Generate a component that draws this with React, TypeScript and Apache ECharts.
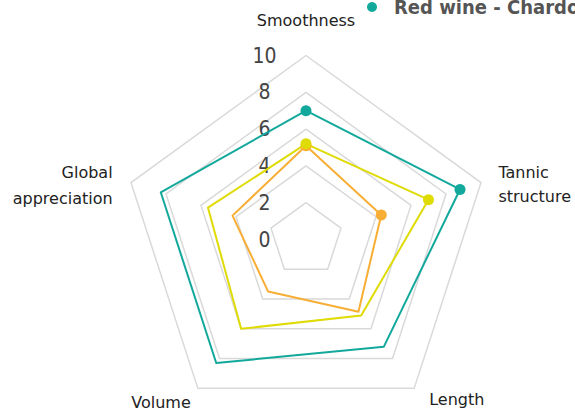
import React, { useEffect, useRef } from "react";
import * as echarts from "echarts";

// Indicators in ECharts radar order (counter-clockwise from the top)
const indicators = ["Smoothness", "Global appreciation", "Volume", "Length", "Tannic structure"];
const axisMax = 10;

const seriesNames = ["Red wine - Chardonnay", "Red wine - Merlot", "Red wine - Pinot noir"];
const tealValues = [7.0, 8.3, 8.3, 7.2, 8.8];
const yellowValues = [5.2, 5.6, 6.0, 5.1, 7.0];
const orangeValues = [5.1, 4.2, 3.5, 4.85, 4.3];

// Indicators that carry a marker dot
const dotIndicators = ["Smoothness", "Tannic structure"];

const colors = ["#12a99c", "#dfdb04", "#f8ae35"];

const NAME_FONT = "'DejaVu Sans', sans-serif";
const COND_FONT = "'DejaVu Sans Condensed', 'Liberation Sans Narrow', 'Roboto Condensed', sans-serif";

export default function App() {
  const ref = useRef<HTMLDivElement>(null);
  useEffect(() => {
    if (!ref.current) return;
    const chart = echarts.init(ref.current, null, { renderer: "svg" });
    const allValues = [tealValues, yellowValues, orangeValues];
    const clockwise = [indicators[0], indicators[4], indicators[3], indicators[2], indicators[1]];
    const center = [306, 239.5];
    const radius = 184;

    const base = { fontSize: 16, color: "#222", fontFamily: NAME_FONT, lineHeight: 25 };
    const rich: any = {
      s: { ...base, padding: [0, 0, 17, 0] },
      t1: { ...base, padding: [12, 0, 0, 6] },
      t2: { ...base, padding: [10, 0, 0, 6] },
      g1: { ...base, padding: [12, 7, 0, 0] },
      g2: { ...base, padding: [14, 7, 0, 0] },
      v: { ...base, padding: [8, 0, 0, 0] },
      l: { ...base, padding: [2, 0, 0, 8] },
    };
    const nameFormatter = (value: string) => {
      if (value === "Smoothness") return `{s|${value}}`;
      if (value === "Tannic structure") return `{t1|Tannic}\n{t2|structure}`;
      if (value === "Global appreciation") return `{g1|Global}\n{g2|appreciation}`;
      if (value === "Volume") return `{v|${value}}`;
      if (value === "Length") return `{l|${value}}`;
      return value;
    };

    const radarSeries = [0, 2, 1].map((i) => ({
      type: "radar",
      name: seriesNames[i],
      symbol: "none",
      z: 2,
      lineStyle: { color: colors[i], width: 2 },
      itemStyle: { color: colors[i] },
      data: [{ value: allValues[i], name: seriesNames[i] }],
    }));

    const dotSeries = [0, 2, 1].map((i) => ({
      type: "scatter",
      name: seriesNames[i],
      coordinateSystem: "polar",
      symbol: "circle",
      symbolSize: 11,
      z: 3,
      itemStyle: { color: colors[i], opacity: 1 },
      data: dotIndicators.map((ind) => [allValues[i][indicators.indexOf(ind)], ind]),
    }));

    chart.setOption({
      animation: false,
      legend: {
        data: seriesNames,
        left: 362,
        top: -8,
        width: 2000,
        orient: "horizontal",
        icon: "circle",
        itemWidth: 34,
        itemHeight: 10,
        itemGap: 20,
        textStyle: {
          fontSize: 20,
          fontWeight: "bold",
          color: "#555",
          fontFamily: COND_FONT,
        },
      },
      radar: {
        center,
        radius,
        shape: "polygon",
        splitNumber: 5,
        nameGap: 12,
        axisName: {
          color: "#222",
          fontSize: 16,
          lineHeight: 25,
          fontFamily: NAME_FONT,
          formatter: nameFormatter,
          rich,
        },
        axisLine: { show: false },
        axisTick: { show: false },
        splitArea: { show: false },
        splitLine: { lineStyle: { color: "#d9d9d9", width: 1.5 } },
        axisLabel: { show: false },
        indicator: indicators.map((name, k) => {
          const item: any = { name, min: 0, max: axisMax };
          if (k === 0) {
            item.axisLabel = {
              show: true,
              color: "#444",
              fontSize: 21,
              fontFamily: COND_FONT,
              align: "center",
              margin: 41.5,
              padding: [0, 0, 3, 0],
            };
          }
          return item;
        }),
      },
      polar: { center, radius },
      angleAxis: {
        type: "category",
        data: clockwise,
        startAngle: 90,
        boundaryGap: false,
        axisLine: { show: false },
        axisTick: { show: false },
        axisLabel: { show: false },
        splitLine: { show: false },
      },
      radiusAxis: {
        type: "value",
        min: 0,
        max: axisMax,
        axisLine: { show: false },
        axisTick: { show: false },
        axisLabel: { show: false },
        splitLine: { show: false },
      },
      series: [...radarSeries, ...dotSeries],
    });
    return () => chart.dispose();
  }, []);
  return (
    <div
      ref={ref}
      style={{ position: "fixed", left: 0, top: 0, width: 575, height: 409, background: "#fff" }}
    />
  );
}
